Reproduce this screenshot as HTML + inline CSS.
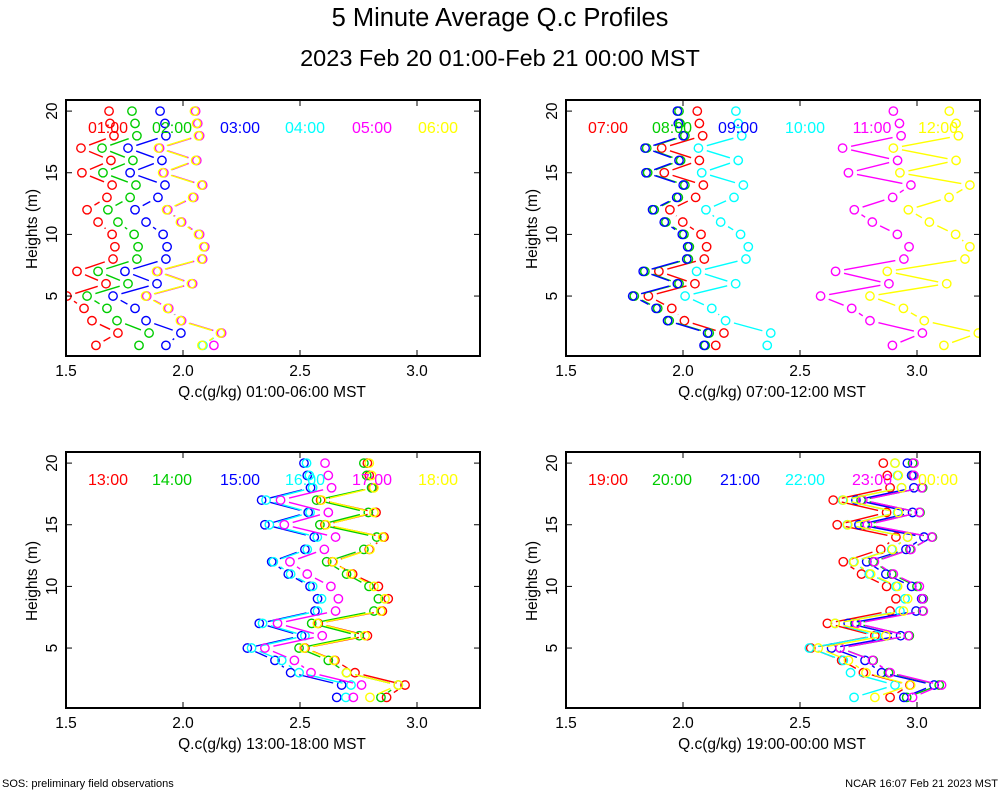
<!DOCTYPE html>
<html><head><meta charset="utf-8">
<style>
body{margin:0;background:#fff;}
svg{display:block;font-family:"Liberation Sans",sans-serif;}
</style></head>
<body>
<svg id="chart" width="1000" height="800" viewBox="0 0 1000 800">
<text x="500" y="26" font-size="25.5" text-anchor="middle">5 Minute Average Q.c Profiles</text>
<text x="500" y="66" font-size="23.5" text-anchor="middle">2023 Feb 20 01:00-Feb 21 00:00 MST</text>
<text x="2" y="787" font-size="11">SOS: preliminary field observations</text>
<text x="998" y="787" font-size="11" text-anchor="end">NCAR 16:07 Feb 21 2023 MST</text>
</svg>
<script>
const heights = [1,2,3,4,5,6,7,8,9,10,11,12,13,14,15,16,17,18,19,20];
const seriesColors = ["#ff0000","#00cc00","#0000ff","#00ffff","#ff00ff","#ffff00"];
const panel1Labels = ["01:00","02:00","03:00","04:00","05:00","06:00"];
const panel2Labels = ["07:00","08:00","09:00","10:00","11:00","12:00"];
const panel3Labels = ["13:00","14:00","15:00","16:00","17:00","18:00"];
const panel4Labels = ["19:00","20:00","21:00","22:00","23:00","00:00"];
const panelXLabels = ["Q.c(g/kg) 01:00-06:00 MST","Q.c(g/kg) 07:00-12:00 MST","Q.c(g/kg) 13:00-18:00 MST","Q.c(g/kg) 19:00-00:00 MST"];
const xTicks = [1.5,2.0,2.5,3.0];
const yTicks = [5,10,15,20];

const p1Red=[1.628,1.722,1.611,1.577,1.504,1.671,1.547,1.701,1.709,1.697,1.637,1.590,1.675,1.697,1.568,1.692,1.564,1.705,1.688,1.684];
const p1Green=[1.812,1.855,1.718,1.675,1.590,1.765,1.637,1.803,1.808,1.791,1.722,1.679,1.774,1.799,1.658,1.786,1.654,1.803,1.795,1.782];
const p1Blue=[1.927,1.991,1.842,1.795,1.701,1.889,1.752,1.927,1.932,1.915,1.842,1.795,1.893,1.923,1.774,1.910,1.765,1.927,1.923,1.902];
const p1Cyan=[2.085,2.162,1.991,1.936,1.842,2.038,1.889,2.081,2.090,2.068,1.991,1.932,2.043,2.081,1.915,2.056,1.897,2.068,2.060,2.051];
const p1Magenta=[2.132,2.165,1.994,1.939,1.845,2.041,1.892,2.084,2.093,2.071,1.994,1.935,2.046,2.084,1.918,2.059,1.900,2.071,2.063,2.054];
const p1Yellow=[2.081,2.160,1.989,1.934,1.840,2.036,1.887,2.079,2.088,2.066,1.989,1.930,2.041,2.079,1.913,2.054,1.895,2.066,2.058,2.049];

const p2Red=[2.140,2.175,2.006,1.952,1.852,2.051,1.897,2.091,2.101,2.077,1.999,1.944,2.054,2.087,1.920,2.070,1.909,2.084,2.070,2.061];
const p2Green=[2.095,2.112,1.941,1.892,1.792,1.983,1.837,2.023,2.027,2.004,1.927,1.877,1.980,2.008,1.849,1.990,1.845,2.008,1.987,1.983];
const p2Blue=[2.090,2.105,1.934,1.885,1.785,1.976,1.830,2.016,2.020,1.997,1.920,1.870,1.973,2.001,1.842,1.983,1.838,2.001,1.980,1.976];
const p2Cyan=[2.360,2.375,2.182,2.123,2.009,2.225,2.058,2.269,2.279,2.246,2.161,2.098,2.218,2.258,2.080,2.236,2.066,2.251,2.236,2.226];
const p2Magenta=[2.895,3.023,2.799,2.721,2.588,2.880,2.652,2.944,2.966,2.916,2.809,2.732,2.896,2.974,2.707,2.917,2.682,2.932,2.925,2.899];
const p2Yellow=[3.115,3.262,3.031,2.942,2.799,3.127,2.873,3.205,3.226,3.165,3.053,2.963,3.137,3.226,2.927,3.167,2.899,3.177,3.167,3.138];

const p3Red=[2.870,2.949,2.735,2.649,2.521,2.788,2.578,2.852,2.877,2.835,2.725,2.639,2.796,2.859,2.607,2.825,2.588,2.813,2.796,2.788];
const p3Green=[2.846,2.920,2.699,2.621,2.496,2.753,2.550,2.816,2.835,2.795,2.699,2.614,2.773,2.828,2.585,2.792,2.571,2.806,2.785,2.773];
const p3Blue=[2.657,2.678,2.460,2.393,2.275,2.507,2.326,2.564,2.575,2.543,2.450,2.379,2.521,2.561,2.350,2.535,2.336,2.545,2.531,2.517];
const p3Cyan=[2.696,2.718,2.496,2.422,2.293,2.521,2.340,2.575,2.592,2.554,2.460,2.386,2.531,2.574,2.369,2.543,2.355,2.554,2.540,2.528];
const p3Magenta=[2.728,2.763,2.547,2.476,2.350,2.595,2.404,2.652,2.664,2.632,2.531,2.457,2.604,2.652,2.433,2.621,2.417,2.635,2.621,2.607];
const p3Yellow=[2.799,2.920,2.699,2.645,2.517,2.778,2.574,2.845,2.863,2.816,2.718,2.642,2.799,2.853,2.611,2.816,2.592,2.816,2.806,2.796];

const p4Red=[2.885,2.970,2.771,2.678,2.546,2.820,2.617,2.885,2.910,2.870,2.763,2.685,2.845,2.910,2.659,2.870,2.642,2.885,2.873,2.856];
const p4Green=[2.956,3.095,2.878,2.813,2.671,2.967,2.735,3.024,3.027,3.000,2.892,2.813,2.970,3.066,2.778,3.013,2.761,3.024,2.984,2.981];
const p4Blue=[2.944,3.073,2.849,2.778,2.635,2.930,2.706,2.996,3.020,2.977,2.867,2.785,2.953,3.030,2.752,2.981,2.739,2.987,2.977,2.959];
const p4Cyan=[2.731,2.906,2.716,2.685,2.540,2.828,2.650,2.927,2.949,2.910,2.796,2.728,2.892,2.960,2.702,2.917,2.682,2.934,2.917,2.906];
const p4Magenta=[2.981,3.105,2.885,2.810,2.671,2.963,2.742,3.027,3.024,3.010,2.899,2.818,2.974,3.063,2.788,3.010,2.768,3.020,2.987,2.987];
const p4Yellow=[2.820,2.973,2.782,2.707,2.578,2.867,2.650,2.942,2.960,2.917,2.802,2.731,2.895,2.960,2.704,2.920,2.685,2.934,2.920,2.906];

const NS="http://www.w3.org/2000/svg";
const svg=document.getElementById('chart');
function mk(tag,attrs,parent){const e=document.createElementNS(NS,tag);for(const k in attrs)e.setAttribute(k,attrs[k]);(parent||svg).appendChild(e);return e;}

const panels=[
 {ox:0,oy:0,labels:panel1Labels,series:[p1Red,p1Green,p1Blue,p1Cyan,p1Magenta,p1Yellow],lx:[108,172,240,305,372,438]},
 {ox:500,oy:0,labels:panel2Labels,series:[p2Red,p2Green,p2Blue,p2Cyan,p2Magenta,p2Yellow],lx:[108,172,238,305,372,438]},
 {ox:0,oy:352,labels:panel3Labels,series:[p3Red,p3Green,p3Blue,p3Cyan,p3Magenta,p3Yellow],lx:[108,172,240,305,372,438]},
 {ox:500,oy:352,labels:panel4Labels,series:[p4Red,p4Green,p4Blue,p4Cyan,p4Magenta,p4Yellow],lx:[108,172,240,305,372,438]}
];

panels.forEach((p,pi)=>{
  const L=66+p.ox,R=480+p.ox,T=100+p.oy,B=356+p.oy;
  const xs=v=>L+(v-1.5)*234;
  const ys=h=>357.7+p.oy-h*12.33;
  const g=mk('g',{});
  
  
  const clipId='clip'+pi;
  const cp=mk('clipPath',{id:clipId},g);
  mk('rect',{x:L,y:T,width:R-L,height:B-T},cp);
  const sg=mk('g',{'clip-path':'url(#'+clipId+')'},g);
  p.series.forEach((arr,si)=>{
    const col=seriesColors[si];
    const s=mk('g',{},sg);
    
    
    const r=4.2,gap=r+4.5;
    for(let i=0;i<arr.length-1;i++){
      const x1=xs(arr[i]),y1=ys(heights[i]),x2=xs(arr[i+1]),y2=ys(heights[i+1]);
      const dx=x2-x1,dy=y2-y1,d=Math.hypot(dx,dy);
      if(d>2*gap){
        const ux=dx/d,uy=dy/d;
        const ln=mk('line',{x1:x1+ux*gap,y1:y1+uy*gap,x2:x2-ux*gap,y2:y2-uy*gap,stroke:col,'stroke-width':1.4},s);
        
        
      }
    }
    arr.forEach((v,i)=>{
      const c=mk('circle',{cx:xs(v),cy:ys(heights[i]),r:r,fill:'none',stroke:col,'stroke-width':1.4},s);
      
      
    });
  });
  p.labels.forEach((lab,si)=>{
    const t=mk('text',{x:p.lx[si]+p.ox,y:133+p.oy,'font-size':16,'text-anchor':'middle',fill:seriesColors[si]},g);
    t.textContent=lab;
    
    
  });
  const fr=mk('rect',{x:L,y:T,width:R-L,height:B-T,fill:'none',stroke:'#000','stroke-width':2},g);
  
  
  xTicks.forEach(v=>{
    const x=xs(v);
    mk('line',{x1:x,y1:B,x2:x,y2:B-6,stroke:'#000','stroke-width':1},g);
    mk('line',{x1:x,y1:T,x2:x,y2:T+6,stroke:'#000','stroke-width':1},g);
    const t=mk('text',{x:x,y:B+20,'font-size':15.5,'text-anchor':'middle'},g);
    t.textContent=v.toFixed(1);
    
    
  });
  yTicks.forEach(h=>{
    const y=ys(h);
    mk('line',{x1:L,y1:y,x2:L+6,y2:y,stroke:'#000','stroke-width':1},g);
    mk('line',{x1:R,y1:y,x2:R-6,y2:y,stroke:'#000','stroke-width':1},g);
    const t=mk('text',{x:0,y:0,'font-size':15.5,'text-anchor':'middle',transform:`translate(${L-9},${y}) rotate(-90)`},g);
    t.textContent=h;
    
    
  });
  const yt=mk('text',{x:0,y:0,'font-size':15.5,'text-anchor':'middle',transform:`translate(${37+p.ox},${229+p.oy}) rotate(-90)`},g);
  yt.textContent='Heights (m)';
  
  
  const xt=mk('text',{x:272+p.ox,y:397+p.oy,'font-size':15.5,'text-anchor':'middle'},g);
  xt.textContent=panelXLabels[pi];
  
  
});
</script>
</body></html>
